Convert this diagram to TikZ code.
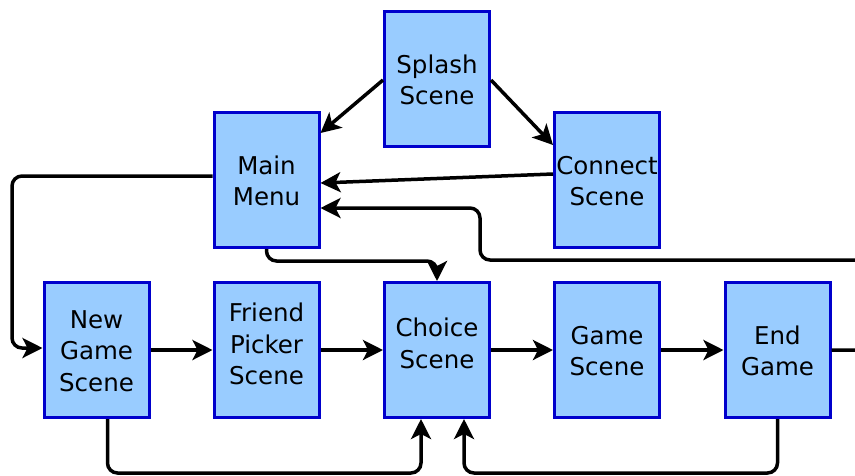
\documentclass[tikz,border=0pt]{standalone}
\usepackage{fontspec}
\setmainfont{DejaVu Sans}
\usetikzlibrary{arrows.meta}
\definecolor{boxfill}{HTML}{99CCFF}
\definecolor{boxline}{HTML}{0000CC}
\begin{document}
\begin{tikzpicture}[x=1pt,y=-1pt,
  scenebox/.style={draw=boxline,fill=boxfill,line width=3pt,
    minimum width=105pt,minimum height=135pt,inner sep=0pt},
  scenetext/.style={align=center,inner sep=0pt,
    font=\fontsize{24.5}{31.5}\selectfont},
  flow/.style={line width=3.5pt,rounded corners=10pt,
    -{Stealth[length=20pt,width=20pt,inset=5pt]}}]
\useasboundingbox (0,0) rectangle (855,475);
\clip (0,0) rectangle (855,475);

% scene boxes
\node[scenebox] (splash)  at (437,79)    {};
\node[scenebox] (menu)    at (266.5,180) {};
\node[scenebox] (connect) at (607,180)   {};
\node[scenebox] (newgame) at (96.5,350)  {};
\node[scenebox] (friend)  at (266.5,350) {};
\node[scenebox] (choice)  at (437,350)   {};
\node[scenebox] (game)    at (607,350)   {};
\node[scenebox] (endgame) at (777.5,350) {};

% scene names
\node[scenetext] (splashT)  at (437,80)    {Splash\\Scene};
\node[scenetext] (menuT)    at (266.5,181) {Main\\Menu};
\node[scenetext] (connectT) at (607,181)   {Connect\\Scene};
\node[scenetext] (newgameT) at (96.5,351)  {New\\Game\\Scene};
\node[scenetext] (friendT)  at (266.5,344) {Friend\\Picker\\Scene};
\node[scenetext] (choiceT)  at (437,343.5) {Choice\\Scene};
\node[scenetext] (gameT)    at (607,351)   {Game\\Scene};
\node[scenetext] (endgameT) at (777.5,351) {End\\Game};

% transitions
\draw[flow] ([yshift=-1pt]splash.west) -- ([yshift=47pt]menu.east);
\draw[flow] ([yshift=-1pt]splash.east) -- ([yshift=35pt]connect.west);
\draw[flow] ([yshift=6pt]connect.west) -- ([yshift=-3pt]menu.east);

\draw[flow] ([yshift=4pt]menu.west) -- (12,176) -- (12,348)
  -- ([yshift=2pt]newgame.west);
\draw[flow] (menu.south) -- (266.5,261) -- (437,261) -- (choice.north);

\draw[flow] (newgame.east) -- (friend.west);
\draw[flow] (friend.east) -- (choice.west);
\draw[flow] (choice.east) -- (game.west);
\draw[flow] (game.east) -- (endgame.west);

\draw[flow] (endgame.east) -- (875,350) -- (875,260) -- (480,260)
  -- (480,208) -- ([yshift=-28pt]menu.east);

\draw[flow] ([xshift=11pt]newgame.south) -- (107.5,473) -- (421,473)
  -- ([xshift=-16pt]choice.south);
\draw[flow] (endgame.south) -- (777.5,473) -- (464,473)
  -- ([xshift=27pt]choice.south);
\end{tikzpicture}
\end{document}
